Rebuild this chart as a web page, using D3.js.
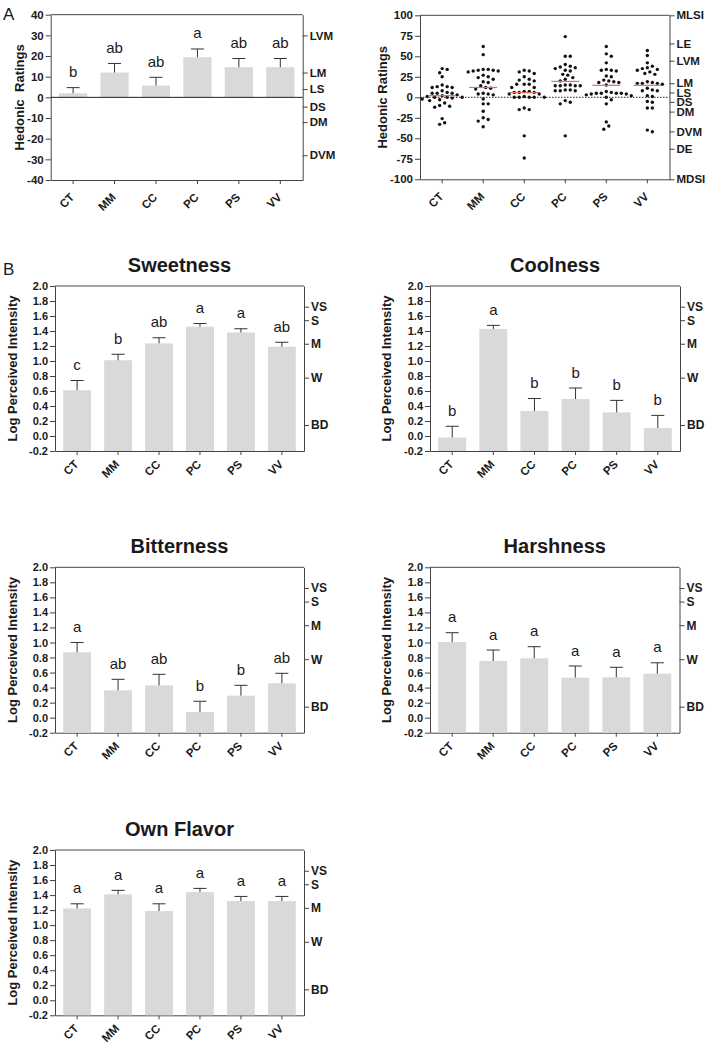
<!DOCTYPE html>
<html>
<head>
<meta charset="utf-8">
<script src="https://cdn.jsdelivr.net/npm/d3@7"></script>
<style>
  html, body { margin: 0; padding: 0; background: #fff; }
  svg { display: block; font-family: "Liberation Sans", Arial, Helvetica, sans-serif; }
</style>
</head>
<body>
<svg id="chart" width="708" height="1050"></svg>
<script>
// ---------------- DATA ----------------
const categories = ["CT", "MM", "CC", "PC", "PS", "VV"];

// Panel A (left): hedonic ratings, mean and mean+SEM
const hedonicMean = [2.0, 12.0, 5.7, 19.4, 14.6, 14.6];
const hedonicTop  = [4.7, 16.4, 9.7, 23.4, 18.8, 18.8];
const hedonicLetters = ["b", "ab", "ab", "a", "ab", "ab"];
const hedonicTicks = [40, 30, 20, 10, 0, -10, -20, -30, -40];
const hedonicScaleVals = [30, 12, 4, -4.5, -12, -28];
const hedonicScaleLabels = ["LVM", "LM", "LS", "DS", "DM", "DVM"];

// Panel A (right): individual hedonic ratings
const ratingsCT = [35, 34, 30, 25, 15, 13, 13, 12, 12, 8, 6, 5, 5, 5, 3, 2, 1, 0, 0, 0, -1, -2, -3, -4, -7, -10, -11, -12, -26, -31, -33];
const ratingsMM = [62, 52, 34, 34, 33, 33, 32, 32, 31, 27, 25, 24, 22, 19, 18, 14, 12, 11, 10, 5, 4, 4, 3, -2, -8, -8, -17, -25, -27, -29, -36];
const ratingsCC = [33, 32, 31, 29, 25, 22, 21, 20, 16, 16, 16, 12, 12, 7, 7, 6, 6, 6, 4, 4, 1, 0, 0, 0, 0, 0, -13, -15, -15, -47, -74];
const ratingsPC = [74, 50, 50, 40, 38, 37, 36, 35, 33, 32, 28, 27, 24, 22, 20, 15, 15, 14, 14, 14, 14, 9, 9, 8, 8, 8, -4, -6, -8, -47];
const ratingsPS = [62, 53, 50, 42, 34, 33, 33, 32, 26, 25, 21, 20, 19, 18, 18, 15, 7, 6, 5, 5, 5, 5, 4, 4, 3, 2, 0, -3, -8, -30, -35, -39];
const ratingsVV = [57, 51, 42, 38, 36, 35, 34, 33, 31, 29, 28, 19, 18, 17, 17, 17, 16, 11, 9, 8, 8, 2, 1, -5, -6, -13, -13, -40, -42];
const ratingTicks = [100, 75, 50, 25, 0, -25, -50, -75, -100];
const lhsVals = [100, 65.72, 44.63, 17.18, 5.96, -5.55, -17.44, -41.58, -62.76, -100];
const lhsLabels = ["MLSI", "LE", "LVM", "LM", "LS", "DS", "DM", "DVM", "DE", "MDSI"];

// Panel B: log perceived intensity, mean and mean+SEM
const sweetMean = [0.61, 1.01, 1.235, 1.457, 1.38, 1.19];
const sweetTop  = [0.74, 1.09, 1.31, 1.50, 1.43, 1.25];
const sweetLetters = ["c", "b", "ab", "a", "a", "ab"];

const coolMean = [-0.02, 1.427, 0.333, 0.493, 0.315, 0.107];
const coolTop  = [0.13, 1.475, 0.50, 0.64, 0.475, 0.275];
const coolLetters = ["b", "a", "b", "b", "b", "b"];

const bitterMean = [0.87, 0.364, 0.43, 0.075, 0.293, 0.457];
const bitterTop  = [1.0, 0.51, 0.577, 0.218, 0.43, 0.59];
const bitterLetters = ["a", "ab", "ab", "b", "b", "ab"];

const harshMean = [1.007, 0.754, 0.79, 0.532, 0.537, 0.585];
const harshTop  = [1.13, 0.90, 0.944, 0.687, 0.67, 0.73];
const harshLetters = ["a", "a", "a", "a", "a", "a"];

const ownMean = [1.222, 1.409, 1.187, 1.44, 1.32, 1.32];
const ownTop  = [1.284, 1.463, 1.284, 1.489, 1.382, 1.382];
const ownLetters = ["a", "a", "a", "a", "a", "a"];

const logTicks = [2.0, 1.8, 1.6, 1.4, 1.2, 1.0, 0.8, 0.6, 0.4, 0.2, 0.0, -0.2];
const glmsVals = [1.724, 1.544, 1.230, 0.778, 0.146];
const glmsLabels = ["VS", "S", "M", "W", "BD"];

// ---------------- DRAWING ----------------
const svg = d3.select("#chart");
const AXIS = "#444";
const TEXT = "#1a1a1a";
const BAR = "#d8d9db";

function frame(p) {
  const g = svg.append("g");
  const x = d3.scaleBand().domain(categories).range([p.x0, p.x1])
    .paddingInner(0.32).paddingOuter(0.2);
  const y = d3.scaleLinear().domain(p.domain).range([p.y1, p.y0]);

  // top border
  g.append("line").attr("x1", p.x0).attr("x2", p.x1).attr("y1", p.y0).attr("y2", p.y0)
    .attr("stroke", AXIS).attr("stroke-width", 1);

  const left = g.append("g").attr("transform", `translate(${p.x0},0)`)
    .call(d3.axisLeft(y).tickValues(p.ticks).tickSize(5).tickSizeOuter(0).tickPadding(2)
      .tickFormat(p.fmt));
  const right = g.append("g").attr("transform", `translate(${p.x1},0)`)
    .call(d3.axisRight(y).tickValues(p.rVals).tickSize(5).tickSizeOuter(0).tickPadding(2)
      .tickFormat((d, i) => p.rLabels[i]));
  const bottom = g.append("g").attr("transform", `translate(0,${p.y1})`)
    .call(d3.axisBottom(x).tickSize(4).tickSizeOuter(0).tickFormat(""));

  [left, right, bottom].forEach(a => {
    a.selectAll("path, line").attr("stroke", AXIS).attr("stroke-width", 1);
    a.selectAll("text").attr("fill", TEXT).attr("font-weight", "bold").attr("font-family", null);
  });
  left.selectAll("text").attr("font-size", p.tickFont);
  right.selectAll("text").attr("font-size", p.rFont);

  // rotated category labels
  g.selectAll(".xl").data(categories).join("text")
    .attr("transform", d => `translate(${x(d) + x.bandwidth() / 2 + 2},${p.y1 + p.labelDy}) rotate(-45)`)
    .attr("text-anchor", "end")
    .attr("font-size", 11.5).attr("font-weight", "bold").attr("fill", TEXT)
    .text(d => d);

  // y title
  g.append("text")
    .attr("transform", `translate(${p.titleX},${(p.y0 + p.y1) / 2}) rotate(-90)`)
    .attr("dy", "0.35em").attr("text-anchor", "middle")
    .attr("font-size", 13).attr("font-weight", "bold").attr("fill", TEXT)
    .style("white-space", "pre")
    .text(p.yTitle);

  if (p.title) {
    g.append("text").attr("x", (p.x0 + p.x1) / 2).attr("y", p.y0 - 14)
      .attr("text-anchor", "middle").attr("font-size", 20).attr("font-weight", "bold")
      .attr("fill", TEXT).text(p.title);
  }
  return { g, x, y };
}

function bars(p, means, tops, letters, base) {
  const { g, x, y } = frame(p);
  const bw = x.bandwidth();
  const data = categories.map((c, i) => ({ c, m: means[i], t: tops[i], l: letters[i] }));
  g.selectAll(".bar").data(data).join("rect")
    .attr("x", d => x(d.c)).attr("width", bw)
    .attr("y", d => Math.min(y(d.m), y(base)))
    .attr("height", d => Math.abs(y(base) - y(d.m)))
    .attr("fill", BAR);
  // error bars
  g.selectAll(".eb").data(data).join("line")
    .attr("x1", d => x(d.c) + bw / 2).attr("x2", d => x(d.c) + bw / 2)
    .attr("y1", d => y(d.m)).attr("y2", d => y(d.t))
    .attr("stroke", "#333").attr("stroke-width", 1);
  g.selectAll(".cap").data(data).join("line")
    .attr("x1", d => x(d.c) + bw / 2 - 6.5).attr("x2", d => x(d.c) + bw / 2 + 6.5)
    .attr("y1", d => y(d.t)).attr("y2", d => y(d.t))
    .attr("stroke", "#333").attr("stroke-width", 1);
  g.selectAll(".let").data(data).join("text")
    .attr("x", d => x(d.c) + bw / 2).attr("y", d => y(d.t) - 10.5)
    .attr("text-anchor", "middle").attr("font-size", 15).attr("fill", TEXT)
    .text(d => d.l);
  return { g, x, y };
}

const fmt1 = d => d.toFixed(1);
const fmt0 = d => String(d);

// Panel A left
const pA1 = { x0: 50.7, x1: 302.7, y0: 14.7, y1: 180, domain: [-40, 40], ticks: hedonicTicks, fmt: fmt0,
  rVals: hedonicScaleVals, rLabels: hedonicScaleLabels, tickFont: 11.5, rFont: 11.5, labelDy: 18,
  titleX: 19, yTitle: "Hedonic  Ratings" };
const a1 = bars(pA1, hedonicMean, hedonicTop, hedonicLetters, 0);
a1.g.append("line").attr("x1", pA1.x0).attr("x2", pA1.x1)
  .attr("y1", a1.y(0)).attr("y2", a1.y(0)).attr("stroke", "#222").attr("stroke-width", 1);

// Panel A right (scatter)
const pA2 = { x0: 420, x1: 669.5, y0: 15.3, y1: 179.3, domain: [-100, 100], ticks: ratingTicks, fmt: fmt0,
  rVals: lhsVals, rLabels: lhsLabels, tickFont: 11.5, rFont: 11.5, labelDy: 18,
  titleX: 382, yTitle: "Hedonic Ratings" };
const a2 = frame(pA2);
a2.g.append("line").attr("x1", pA2.x0).attr("x2", pA2.x1)
  .attr("y1", a2.y(0)).attr("y2", a2.y(0))
  .attr("stroke", "#222").attr("stroke-width", 1).attr("stroke-dasharray", "1.5,1.5");
const groups = [ratingsCT, ratingsMM, ratingsCC, ratingsPC, ratingsPS, ratingsVV];
const R = 1.7, MIN = 4.6;
groups.forEach((vals, gi) => {
  const cx = a2.x(categories[gi]) + a2.x.bandwidth() / 2;
  const placed = [];
  const sorted = vals.slice().sort((a, b) => b - a);
  sorted.forEach(v => {
    const py = a2.y(v);
    let off = 0;
    for (let k = 0; k < 40; k++) {
      const cand = k === 0 ? 0 : (k % 2 ? 1 : -1) * Math.ceil(k / 2) * 2.5;
      const ok = placed.every(q => Math.hypot(q.x - (cx + cand), q.y - py) >= MIN);
      if (ok) { off = cand; break; }
    }
    placed.push({ x: cx + off, y: py });
  });
  a2.g.selectAll(".dot" + gi).data(placed).join("circle")
    .attr("cx", d => d.x).attr("cy", d => d.y).attr("r", R).attr("fill", "#111");
  const bw = a2.x.bandwidth();
  a2.g.append("line").attr("x1", a2.x(categories[gi])).attr("x2", a2.x(categories[gi]) + bw)
    .attr("y1", a2.y(hedonicMean[gi])).attr("y2", a2.y(hedonicMean[gi]))
    .attr("stroke", "#e07060").attr("stroke-width", 1.2);
});

// Panel B
const bBase = { domain: [-0.2, 2.0], ticks: logTicks, fmt: fmt1, rVals: glmsVals, rLabels: glmsLabels,
  tickFont: 11, rFont: 12, labelDy: 14, yTitle: "Log Perceived Intensity" };
bars({ ...bBase, x0: 55, x1: 304, y0: 286, y1: 451, titleX: 12.5, title: "Sweetness" }, sweetMean, sweetTop, sweetLetters, -0.2);
bars({ ...bBase, x0: 430, x1: 680, y0: 286, y1: 451, titleX: 386.5, title: "Coolness" }, coolMean, coolTop, coolLetters, -0.2);
bars({ ...bBase, x0: 55, x1: 304, y0: 567.3, y1: 732.7, titleX: 12.5, title: "Bitterness" }, bitterMean, bitterTop, bitterLetters, -0.2);
bars({ ...bBase, x0: 430, x1: 679.5, y0: 567.3, y1: 732.7, titleX: 386.5, title: "Harshness" }, harshMean, harshTop, harshLetters, -0.2);
bars({ ...bBase, x0: 55, x1: 304, y0: 850, y1: 1015.3, titleX: 12, title: "Own Flavor" }, ownMean, ownTop, ownLetters, -0.2);

// panel letters
svg.append("text").attr("x", 3).attr("y", 20).attr("font-size", 17).attr("fill", TEXT).text("A");
svg.append("text").attr("x", 3).attr("y", 275).attr("font-size", 17).attr("fill", TEXT).text("B");
</script>
</body>
</html>
